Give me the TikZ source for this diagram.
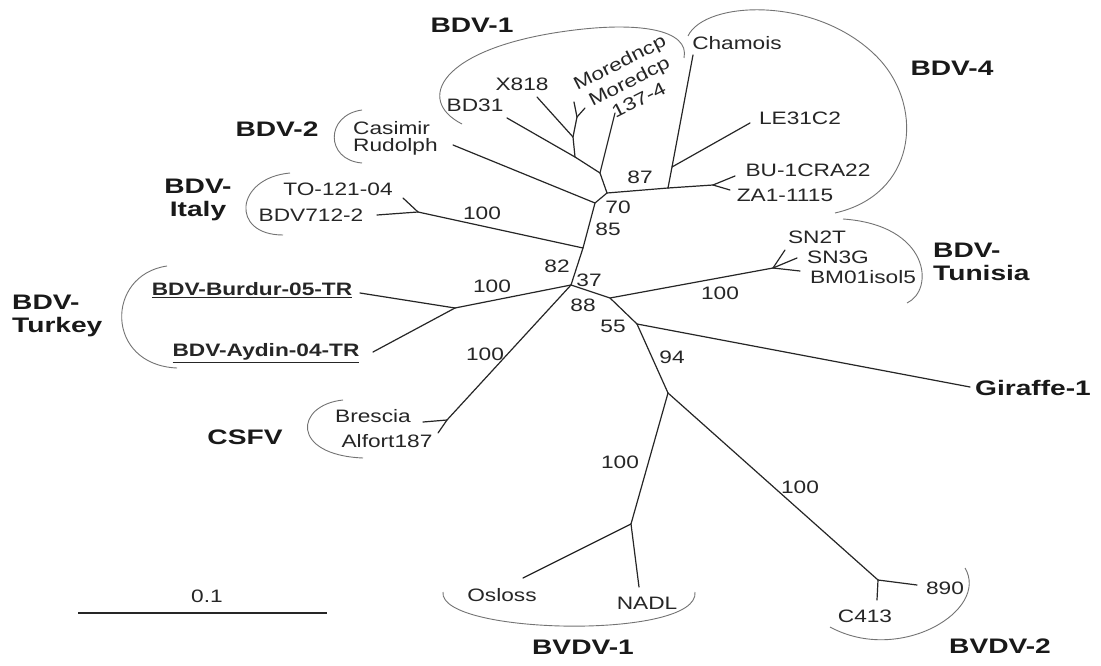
\documentclass[tikz,border=0pt]{standalone}
\usepackage{fontspec}
\setmainfont{Liberation Sans}
\newfontfamily\labfont[FakeStretch=1.26]{Liberation Sans}
\newfontfamily\grpfont[FakeStretch=1.34]{Liberation Sans}
\tikzset{
  br/.style={draw=black!85, line width=1.2pt, line cap=round, line join=round},
  brk/.style={draw=black!55, line width=0.9pt},
  leaf/.style={font=\labfont\fontsize{18}{20}\selectfont, text=black!85, inner sep=0pt},
  boot/.style={font=\labfont\fontsize{18}{20}\selectfont, text=black!85, inner sep=0pt},
  clade/.style={font=\grpfont\bfseries\fontsize{21}{23}\selectfont, text=black!90, inner sep=0pt},
  tlab/.style={font=\labfont\bfseries\fontsize{18}{20}\selectfont, text=black!85, inner sep=0pt},
}
\begin{document}
\begin{tikzpicture}[x=1pt, y=-1pt]
\useasboundingbox (0,0) rectangle (1101,666);
\fill[white] (0,0) rectangle (1101,666);

% ---- internal nodes and tips ----
\coordinate (nA) at (607,193);
\coordinate (n1) at (600,173);
\coordinate (nBD) at (575,157);
\coordinate (nX) at (573,137);
\coordinate (nM) at (577,117);
\coordinate (tMn) at (574,102);
\coordinate (tMd) at (585,108);
\coordinate (tX) at (537,97);
\coordinate (tBD) at (507,118);
\coordinate (t137) at (615,113);
\coordinate (nC) at (668,188);
\coordinate (nLE) at (672,167);
\coordinate (tCh) at (693,55);
\coordinate (tLE) at (750,123);
\coordinate (nBZ) at (713,185);
\coordinate (tBU) at (735,176);
\coordinate (tZA) at (730,190);
\coordinate (nB) at (595,203);
\coordinate (tCR) at (453,145);
\coordinate (nI) at (583,248);
\coordinate (nIt) at (418,212);
\coordinate (tTO) at (403,198);
\coordinate (t712) at (377,215);
\coordinate (nT) at (571,285);
\coordinate (nTu) at (455,308);
\coordinate (tBur) at (360,293);
\coordinate (tAyd) at (373,352);
\coordinate (nCS) at (447,420);
\coordinate (tBre) at (423,422);
\coordinate (tAlf) at (438,433);
\coordinate (n88) at (610,298);
\coordinate (nTn) at (773,268);
\coordinate (tSN2) at (785,250);
\coordinate (tSN3) at (797,258);
\coordinate (tBM) at (800,271);
\coordinate (n55) at (637,324);
\coordinate (tGir) at (970,387);
\coordinate (n94) at (668,393);
\coordinate (nBV1) at (631,524);
\coordinate (tOsl) at (523,578);
\coordinate (tNAD) at (639,587);
\coordinate (nBV2) at (878,580);
\coordinate (t890) at (917,585);
\coordinate (tC413) at (877,600);

% ---- branches ----
% BDV-1
\draw[br] (nA) -- (n1);
\draw[br] (n1) -- (nBD) -- (tBD);
\draw[br] (nBD) -- (nX) -- (tX);
\draw[br] (nX) -- (nM);
\draw[br] (nM) -- (tMn);
\draw[br] (nM) -- (tMd);
\draw[br] (n1) -- (t137);
% BDV-4
\draw[br] (nA) -- (nC);
\draw[br] (nC) -- (nLE) -- (tCh);
\draw[br] (nLE) -- (tLE);
\draw[br] (nC) -- (nBZ);
\draw[br] (nBZ) -- (tBU);
\draw[br] (nBZ) -- (tZA);
% BDV-2
\draw[br] (nA) -- (nB) -- (tCR);
% BDV-Italy
\draw[br] (nB) -- (nI) -- (nIt);
\draw[br] (nIt) -- (tTO);
\draw[br] (nIt) -- (t712);
% BDV-Turkey
\draw[br] (nI) -- (nT) -- (nTu);
\draw[br] (nTu) -- (tBur);
\draw[br] (nTu) -- (tAyd);
% CSFV
\draw[br] (nT) -- (nCS);
\draw[br] (nCS) -- (tBre);
\draw[br] (nCS) -- (tAlf);
% BDV-Tunisia
\draw[br] (nT) -- (n88) -- (nTn);
\draw[br] (nTn) -- (tSN2);
\draw[br] (nTn) -- (tSN3);
\draw[br] (nTn) -- (tBM);
% Giraffe
\draw[br] (n88) -- (n55) -- (tGir);
% BVDV
\draw[br] (n55) -- (n94);
\draw[br] (n94) -- (nBV1);
\draw[br] (nBV1) -- (tOsl);
\draw[br] (nBV1) -- (tNAD);
\draw[br] (n94) -- (nBV2);
\draw[br] (nBV2) -- (t890);
\draw[br] (nBV2) -- (tC413);

% ---- clade brackets ----
\draw[brk] (462,124) .. controls (415,100) and (440,50) .. (560,32) .. controls (640,20) and (690,30) .. (684,58);
\draw[brk] (688,36) .. controls (705,0) and (820,-5) .. (880,60) .. controls (925,110) and (915,195) .. (835,213);
\draw[brk] (362,110) .. controls (325,115) and (325,160) .. (362,163);
\draw[brk] (290,173) .. controls (235,178) and (230,235) .. (283,235);
\draw[brk] (167,266) .. controls (105,275) and (105,365) .. (177,368);
\draw[brk] (343,400) .. controls (295,405) and (290,455) .. (363,458);
\draw[brk] (843,219) .. controls (930,225) and (935,290) .. (907,303);
\draw[brk] (443,592) .. controls (438,635) and (700,640) .. (695,592);
\draw[brk] (965,568) .. controls (990,610) and (900,665) .. (830,627);

% ---- tip labels ----
\node[leaf] (lBD31) at (475,105) {BD31};
\node[leaf] (lX818) at (522,84) {X818};
\node[leaf, rotate=27, align=center, font=\labfont\fontsize{18}{21}\selectfont]
  (lMor) at (629,81) {Moredncp\\Moredcp\\137-4};
\node[leaf] (lCh) at (737,43) {Chamois};
\node[leaf] (lLE) at (800,118) {LE31C2};
\node[leaf] (lBU) at (808,170) {BU-1CRA22};
\node[leaf] (lZA) at (785,195) {ZA1-1115};
\node[leaf, anchor=west] (lCas) at (353,128) {Casimir};
\node[leaf, anchor=west] (lRud) at (353,147) {Rudolph};
\node[leaf] (lTO) at (338,189) {TO-121-04};
\node[leaf] (l712) at (311,215) {BDV712-2};
\node[tlab] (lBur) at (252,290) {\underline{BDV-Burdur-05-TR}};
\node[tlab] (lAyd) at (266,353) {\underline{BDV-Aydin-04-TR}};
\node[leaf] (lBre) at (373,416) {Brescia};
\node[leaf] (lAlf) at (387,441) {Alfort187};
\node[leaf] (lSN2) at (817,237) {SN2T};
\node[leaf] (lSN3) at (838,257) {SN3G};
\node[leaf] (lBM) at (863,277) {BM01isol5};
\node[leaf] (lOsl) at (502,595) {Osloss};
\node[leaf] (lNAD) at (647,603) {NADL};
\node[leaf] (l890) at (945,588) {890};
\node[leaf] (lC413) at (865,616) {C413};

% ---- bootstrap values ----
\node[boot] (b87) at (640,177) {87};
\node[boot] (b70) at (618,207) {70};
\node[boot] (b85) at (608,229) {85};
\node[boot] (b82) at (557,266) {82};
\node[boot] (b37) at (589,280) {37};
\node[boot] (b88) at (583,305) {88};
\node[boot] (b55) at (613,326) {55};
\node[boot] (b94) at (672,357) {94};
\node[boot] (bIt) at (482,213) {100};
\node[boot] (bTu) at (492,286) {100};
\node[boot] (bCS) at (485,354) {100};
\node[boot] (bTn) at (720,293) {100};
\node[boot] (bB1) at (620,462) {100};
\node[boot] (bB2) at (800,487) {100};

% ---- clade names ----
\node[clade] (gB1) at (472,25) {BDV-1};
\node[clade] (gB4) at (952,68) {BDV-4};
\node[clade] (gB2) at (277,129) {BDV-2};
\node[clade, align=center] (gIt) at (198,200) {BDV-\\Italy};
\node[clade, align=left, anchor=west] (gTk) at (12,316) {BDV-\\Turkey};
\node[clade] (gCS) at (245,437) {CSFV};
\node[clade, align=left, anchor=west] (gTn) at (933,262) {BDV-\\Tunisia};
\node[clade] (gGir) at (1033,388) {Giraffe-1};
\node[clade] (gV1) at (583,647) {BVDV-1};
\node[clade] (gV2) at (1000,646) {BVDV-2};

% ---- scale bar ----
\coordinate (s0) at (78,613);
\coordinate (s1) at (327,613);
\draw[br, line cap=butt] (s0) -- (s1);
\node[boot] (sc) at (207,596) {0.1};
\end{tikzpicture}
\end{document}
